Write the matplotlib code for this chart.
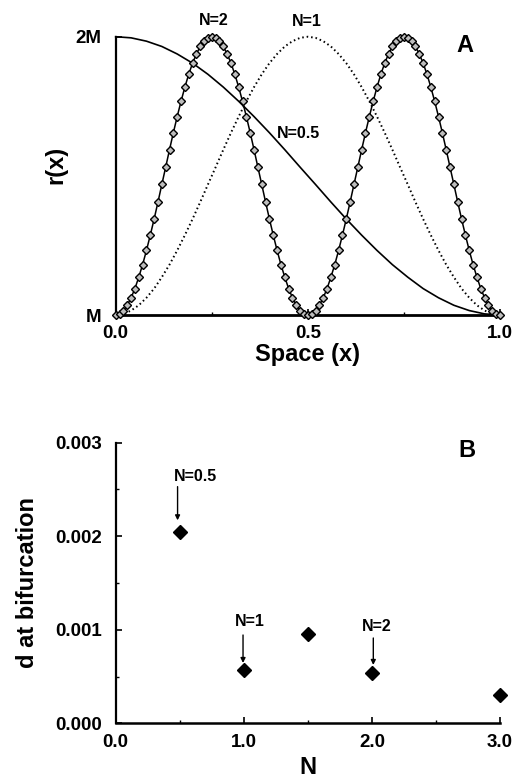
import numpy as np
import matplotlib
matplotlib.use("Agg")
from matplotlib import pyplot as plt

plt.rcParams['font.family'] = ['Liberation Sans', 'DejaVu Sans']
plt.rcParams['font.weight'] = 'bold'

# ---- panel A: r(x) profiles, heights (M = 1, 2M = 2)
# N=2, one marker every 0.01 along x
x_n2 = np.linspace(0.0, 1.0, 101)
r_n2 = [1.000, 1.004, 1.016, 1.035, 1.062, 1.095, 1.136, 1.181, 1.232, 1.287,
        1.345, 1.406, 1.469, 1.531, 1.594, 1.655, 1.713, 1.768, 1.819, 1.865,
        1.905, 1.938, 1.965, 1.984, 1.996, 2.000, 1.996, 1.984, 1.965, 1.938,
        1.905, 1.865, 1.819, 1.768, 1.713, 1.655, 1.594, 1.531, 1.469, 1.406,
        1.345, 1.287, 1.232, 1.181, 1.136, 1.095, 1.062, 1.035, 1.016, 1.004,
        1.000, 1.004, 1.016, 1.035, 1.062, 1.095, 1.136, 1.181, 1.232, 1.287,
        1.345, 1.406, 1.469, 1.531, 1.594, 1.655, 1.713, 1.768, 1.819, 1.865,
        1.905, 1.938, 1.965, 1.984, 1.996, 2.000, 1.996, 1.984, 1.965, 1.938,
        1.905, 1.865, 1.819, 1.768, 1.713, 1.655, 1.594, 1.531, 1.469, 1.406,
        1.345, 1.287, 1.232, 1.181, 1.136, 1.095, 1.062, 1.035, 1.016, 1.004,
        1.000]

# N=1, every 0.02
x_n1 = np.linspace(0.0, 1.0, 51)
r_n1 = [1.000, 1.004, 1.016, 1.035, 1.062, 1.095, 1.136, 1.181, 1.232, 1.287,
        1.345, 1.406, 1.469, 1.531, 1.594, 1.655, 1.713, 1.768, 1.819, 1.865,
        1.905, 1.938, 1.965, 1.984, 1.996, 2.000, 1.996, 1.984, 1.965, 1.938,
        1.905, 1.865, 1.819, 1.768, 1.713, 1.655, 1.594, 1.531, 1.469, 1.406,
        1.345, 1.287, 1.232, 1.181, 1.136, 1.095, 1.062, 1.035, 1.016, 1.004,
        1.000]

# N=0.5, every 0.04
x_n05 = np.linspace(0.0, 1.0, 26)
r_n05 = [2.000, 1.996, 1.984, 1.965, 1.938, 1.905, 1.865, 1.819, 1.768, 1.713,
         1.655, 1.594, 1.531, 1.469, 1.406, 1.345, 1.287, 1.232, 1.181, 1.136,
         1.095, 1.062, 1.035, 1.016, 1.004, 1.000]

# ---- panel B: d at bifurcation
n_vals = [0.5, 1.0, 1.5, 2.0, 3.0]
d_vals = [0.00204, 0.00057, 0.00095, 0.00054, 0.00030]
labelled = {0.5: "N=0.5", 1.0: "N=1", 2.0: "N=2"}

fig = plt.figure(figsize=(5.17, 7.78), dpi=100)

# ---------------- A
ax = fig.add_axes([0.2238, 0.5951, 0.7433, 0.3577])
ax.plot(x_n05, r_n05, color='black', lw=1.2, clip_on=False)
ax.plot(x_n1, r_n1, color='black', lw=1.4, ls=(0, (0.8, 1.5)), clip_on=False)
ax.plot(x_n2, r_n2, color='black', lw=1.1, marker='D', ms=3.8,
        mfc='#bdbdbd', mec='black', mew=1.0, clip_on=False, zorder=3)
ax.set_xlim(0, 1)
ax.set_ylim(1, 2)
for s in ['top', 'right']:
    ax.spines[s].set_visible(False)
ax.spines['left'].set_linewidth(1.6)
ax.spines['bottom'].set_linewidth(2.0)
ax.set_xticks([0, 0.5, 1.0])
ax.set_xticklabels(['0.0', '0.5', '1.0'])
ax.set_xticks([0.25, 0.75], minor=True)
ax.set_yticks([1, 2])
ax.set_yticklabels(['M', '2M'])
ax.tick_params(axis='both', which='major', direction='in', length=4, width=1.2,
               labelsize=13.5)
ax.tick_params(axis='x', which='major', pad=7)
ax.tick_params(axis='y', which='major', pad=10)
ax.tick_params(axis='both', which='minor', direction='in', length=2.5, width=1)
for t in ax.get_xticklabels() + ax.get_yticklabels():
    t.set_fontweight('bold')
ax.set_xlabel('Space (x)', fontsize=17, fontweight='bold')
ax.xaxis.set_label_coords(0.5, -0.1)
ax.set_ylabel('r(x)', fontsize=17, fontweight='bold')
ax.yaxis.set_label_coords(-0.125, 0.54)
ax.text(0.254, 2.06, 'N=2', ha='center', va='center', fontsize=11.5, fontweight='bold')
ax.text(0.497, 2.053, 'N=1', ha='center', va='center', fontsize=11.5, fontweight='bold')
ax.text(0.42, 1.654, 'N=0.5', ha='left', va='center', fontsize=11.5, fontweight='bold')
ax.text(0.909, 1.97, 'A', ha='center', va='center', fontsize=17, fontweight='bold')

# ---------------- B
bx = fig.add_axes([0.2238, 0.0703, 0.7433, 0.3607])
bx.plot(n_vals, d_vals, ls='none', marker='D', ms=7, color='black', clip_on=False)
bx.set_xlim(0, 3)
bx.set_ylim(0, 0.003)
for s in ['top', 'right']:
    bx.spines[s].set_visible(False)
bx.spines['left'].set_linewidth(1.6)
bx.spines['bottom'].set_linewidth(1.8)
bx.set_xticks([0, 1, 2, 3])
bx.set_xticklabels(['0.0', '1.0', '2.0', '3.0'])
bx.set_xticks([0.5, 1.5, 2.5], minor=True)
bx.set_yticks([0, 0.001, 0.002, 0.003])
bx.set_yticklabels(['0.000', '0.001', '0.002', '0.003'])
bx.set_yticks([0.0005, 0.0015, 0.0025], minor=True)
bx.tick_params(axis='both', which='major', direction='in', length=4, width=1.2,
               labelsize=13.5)
bx.tick_params(axis='x', which='major', pad=8)
bx.tick_params(axis='y', which='major', pad=10)
bx.tick_params(axis='both', which='minor', direction='in', length=2.5, width=1)
for t in bx.get_xticklabels() + bx.get_yticklabels():
    t.set_fontweight('bold')
bx.set_xlabel('N', fontsize=17, fontweight='bold')
bx.xaxis.set_label_coords(0.5, -0.115)
bx.set_ylabel('d at bifurcation', fontsize=17, fontweight='bold')
bx.yaxis.set_label_coords(-0.20, 0.5)

# label text position, arrow x, arrow top, arrow tip
ann = {0.5: (0.62, 0.002634, 0.483, 0.00253, 0.00217),
       1.0: (1.05, 0.001093, 0.994, 0.000944, 0.000645),
       2.0: (2.04, 0.001040, 2.011, 0.000912, 0.000624)}
for n, d in zip(n_vals, d_vals):
    if n in labelled:
        tx, ty, axx, a0, a1 = ann[n]
        bx.annotate('', xy=(axx, a1), xytext=(axx, a0),
                    arrowprops=dict(arrowstyle='-|>', color='black', lw=1.0,
                                    mutation_scale=7, shrinkA=0, shrinkB=0))
        bx.text(tx, ty, labelled[n], ha='center', va='center',
                fontsize=11.5, fontweight='bold')
bx.text(2.74, 0.002912, 'B', ha='center', va='center', fontsize=17, fontweight='bold')

fig.savefig('out.png', dpi=100)
